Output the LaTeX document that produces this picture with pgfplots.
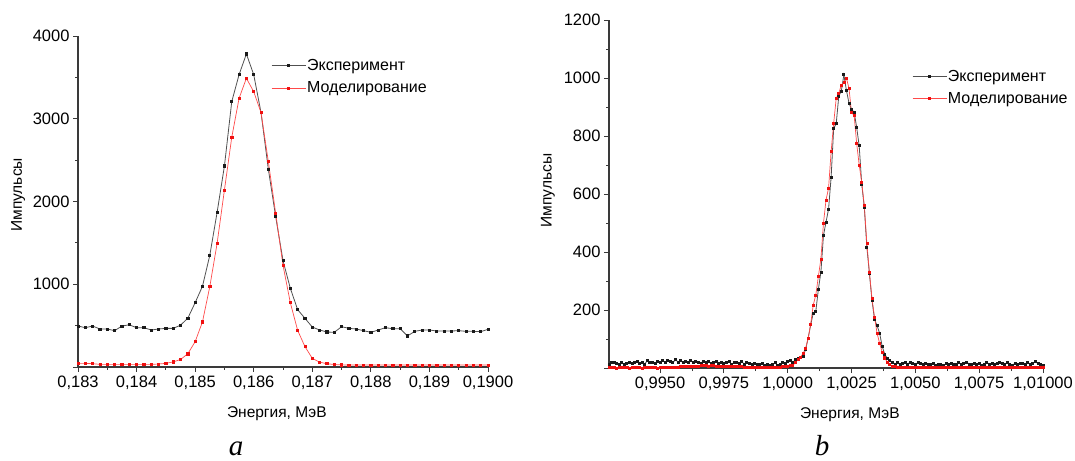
\documentclass[border=0pt]{standalone}
\usepackage{pgfplots}
\pgfplotsset{compat=1.18}
\usepackage{pgfplotstable}
\usepackage{fontspec}
\setmainfont{Liberation Sans}
\newfontfamily\capfont{Liberation Serif}

\pgfplotstableread{
x exp mod
0.183000 495 44
0.183125 475 44
0.183250 495 40
0.183375 459 32
0.183500 459 32
0.183625 439 32
0.183750 495 32
0.183875 510 32
0.184000 475 32
0.184125 475 32
0.184250 447 32
0.184375 459 36
0.184500 467 44
0.184625 467 62
0.184750 505 90
0.184875 590 160
0.185000 777 306
0.185125 975 545
0.185250 1349 971
0.185375 1869 1494
0.185500 2429 2139
0.185625 3207 2775
0.185750 3533 3247
0.185875 3783 3489
0.186000 3533 3327
0.186125 3074 3074
0.186250 2389 2481
0.186375 1817 1857
0.186500 1285 1229
0.186625 951 777
0.186750 693 443
0.186875 588 246
0.187000 483 105
0.187125 447 58
0.187250 423 40
0.187375 419 30
0.187500 487 26
0.187625 467 24
0.187750 459 24
0.187875 439 24
0.188000 419 24
0.188125 447 24
0.188250 475 24
0.188375 463 24
0.188500 463 24
0.188625 375 24
0.188750 431 24
0.188875 447 24
0.189000 447 24
0.189125 435 24
0.189250 435 24
0.189375 435 24
0.189500 439 24
0.189625 431 24
0.189750 431 24
0.189875 427 24
0.190000 455 24
}\tabA

\pgfplotstableread{
x exp mod
0.9930 12 1
0.9931 20 2
0.9932 21 1
0.9933 17 0
0.9934 14 1
0.9935 18 2
0.9936 12 1
0.9937 16 1
0.9938 20 0
0.9939 15 1
0.9940 18 2
0.9941 24 1
0.9942 16 1
0.9943 19 0
0.9944 14 1
0.9945 25 1
0.9946 18 2
0.9947 21 1
0.9948 17 1
0.9949 23 0
0.9950 19 1
0.9951 25 2
0.9952 20 1
0.9953 27 1
0.9954 22 2
0.9955 18 1
0.9956 29 3
0.9957 21 3
0.9958 25 4
0.9959 19 4
0.9960 23 5
0.9961 21 5
0.9962 26 6
0.9963 18 6
0.9964 22 7
0.9965 20 7
0.9966 17 8
0.9967 24 8
0.9968 19 8
0.9969 22 7
0.9970 16 8
0.9971 20 8
0.9972 23 7
0.9973 17 7
0.9974 21 6
0.9975 15 6
0.9976 19 6
0.9977 22 5
0.9978 14 5
0.9979 18 5
0.9980 20 4
0.9981 16 4
0.9982 22 4
0.9983 13 3
0.9984 19 3
0.9985 15 3
0.9986 12 3
0.9987 17 3
0.9988 11 2
0.9989 14 2
0.9990 16 2
0.9991 10 2
0.9992 13 2
0.9993 8 2
0.9994 11 2
0.9995 18 2
0.9996 9 3
0.9997 12 3
0.9998 20 4
0.9999 17 4
1.0000 22 5
1.0001 26 8
1.0002 20 10
1.0003 28 18
1.0004 32 30
1.0005 36 38
1.0006 40 50
1.0007 63 68
1.0008 103 102
1.0009 149 152
1.0010 189 217
1.0011 195 252
1.0012 271 315
1.0013 331 376
1.0014 457 499
1.0015 503 579
1.0016 548 620
1.0017 657 746
1.0018 826 844
1.0019 843 930
1.0020 937 947
1.0021 955 976
1.0022 1011 985
1.0023 957 999
1.0024 914 965
1.0025 891 880
1.0026 883 872
1.0027 830 775
1.0028 766 700
1.0029 634 640
1.0030 554 560
1.0031 417 430
1.0032 326 330
1.0033 234 240
1.0034 168 175
1.0035 146 120
1.0036 120 85
1.0037 75 55
1.0038 48 35
1.0039 33 20
1.0040 25 12
1.0041 20 7
1.0042 14 4
1.0043 18 2
1.0044 12 1
1.0045 15 1
1.0046 18 1
1.0047 14 1
1.0048 20 1
1.0049 16 1
1.0050 13 1
1.0051 19 1
1.0052 15 1
1.0053 11 1
1.0054 17 1
1.0055 14 1
1.0056 12 1
1.0057 16 1
1.0058 10 1
1.0059 14 1
1.0060 13 1
1.0061 9 1
1.0062 15 1
1.0063 12 1
1.0064 17 1
1.0065 11 1
1.0066 14 1
1.0067 18 1
1.0068 13 1
1.0069 16 1
1.0070 21 1
1.0071 14 1
1.0072 12 1
1.0073 17 1
1.0074 13 1
1.0075 15 1
1.0076 10 1
1.0077 14 1
1.0078 19 1
1.0079 13 1
1.0080 16 1
1.0081 11 1
1.0082 15 1
1.0083 20 1
1.0084 17 1
1.0085 12 1
1.0086 18 1
1.0087 14 1
1.0088 10 1
1.0089 16 1
1.0090 13 1
1.0091 17 1
1.0092 15 1
1.0093 12 1
1.0094 18 1
1.0095 14 1
1.0096 16 1
1.0097 22 1
1.0098 15 1
1.0099 12 1
1.0100 8 1
}\tabB

\definecolor{axgray}{HTML}{3A3A3A}
\definecolor{explne}{HTML}{505050}
\definecolor{expmrk}{HTML}{1A1A1A}
\definecolor{modlne}{HTML}{FF4A4A}
\definecolor{modmrk}{HTML}{F01010}

\pgfplotsset{
  myaxis/.style={
    scale only axis,
    axis lines=left,
    axis line style={-, line width=1.1pt, draw=axgray},
    tick style={line width=0.9pt, draw=axgray},
    tick align=outside,
    major tick length=5pt,
    minor tick length=3pt,
    minor tick num=1,
    ticklabel style={font=\fontsize{16.5}{18}\selectfont},
    label style={font=\fontsize{15.5}{18}\selectfont},
    legend style={draw=none, fill=none, font=\fontsize{16}{19}\selectfont,
      anchor=north west, inner sep=0pt, row sep=8pt, nodes={inner sep=1pt}},
    legend cell align=left,
    legend image code/.code={\draw[##1, mark repeat=2, mark phase=2]
      plot coordinates {(0pt,0pt) (17pt,0pt) (34pt,0pt)};},
  },
  expstyle/.style={color=explne, line width=0.8pt, mark=square*, mark size=1.1pt,
    mark options={draw=expmrk, fill=expmrk, solid}},
  modstyle/.style={color=modlne, line width=0.7pt, mark=square*, mark size=1.1pt,
    mark options={draw=modmrk, fill=modmrk, solid}},
}

\begin{document}
\begin{tikzpicture}
\useasboundingbox (0pt,0pt) rectangle (1075pt,460pt);
\begin{axis}[myaxis,
  at={(78pt,93pt)}, anchor=south west,
  width=410pt, height=331pt,
  xmin=0.183, xmax=0.190, ymin=0, ymax=4000,
  xtick={0.183,0.184,0.185,0.186,0.187,0.188,0.189,0.190},
  xticklabels={{0,183},{0,184},{0,185},{0,186},{0,187},{0,188},{0,189},{0,1900}},
  ytick={0,1000,2000,3000,4000},
  yticklabels={,1000,2000,3000,4000},
  xlabel={Энергия, МэВ},
  ylabel={Импульсы},
  xlabel style={at={(axis description cs:0.485,0)}, yshift=-47pt, anchor=center},
  ylabel style={at={(axis description cs:-0.146,0.52)}, anchor=center},
  legend style={at={(axis description cs:0.471,0.934)}},
]
\addplot[expstyle] table[x=x, y=exp] {\tabA};
\addplot[modstyle] table[x=x, y=mod] {\tabA};
\legend{Эксперимент, Моделирование}
\end{axis}

\begin{axis}[myaxis,
  at={(609pt,92pt)}, anchor=south west,
  width=434pt, height=348pt,
  xmin=0.9930, xmax=1.0100, ymin=0, ymax=1200,
  xtick={0.995,0.9975,1.0,1.0025,1.005,1.0075,1.01},
  xticklabels={{0,9950},{0,9975},{1,0000},{1,0025},{1,0050},{1,0075},{1,01000}},
  ytick={0,200,400,600,800,1000,1200},
  yticklabels={,200,400,600,800,1000,1200},
  xlabel={Энергия, МэВ},
  ylabel={Импульсы},
  xlabel style={at={(axis description cs:0.555,0)}, yshift=-47pt, anchor=center},
  ylabel style={at={(axis description cs:-0.141,0.51)}, anchor=center},
  legend style={at={(axis description cs:0.698,0.860)}},
]
\addplot[expstyle, mark size=1.0pt] table[x=x, y=exp] {\tabB};
\addplot[modstyle, mark size=1.0pt] table[x=x, y=mod] {\tabB};
\legend{Эксперимент, Моделирование}
\end{axis}

\node[anchor=base, inner sep=0pt, font=\capfont\itshape\fontsize{29}{32}\selectfont] at (236pt,5pt) {a};
\node[anchor=base, inner sep=0pt, font=\capfont\itshape\fontsize{29}{32}\selectfont] at (822pt,5pt) {b};
\end{tikzpicture}
\end{document}
